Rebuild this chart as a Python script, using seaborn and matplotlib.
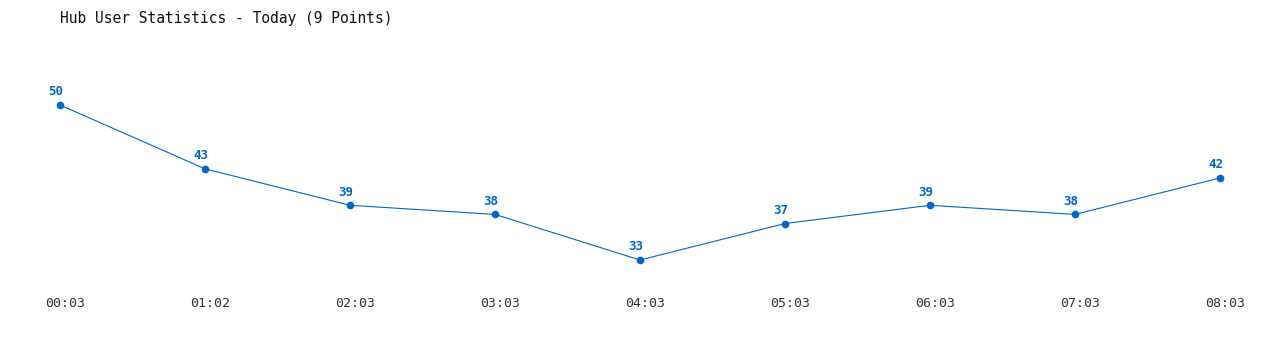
import matplotlib
matplotlib.use("Agg")
import matplotlib.pyplot as plt
import matplotlib.transforms as mtransforms
import seaborn as sns
import pandas as pd

times = ["00:03", "01:02", "02:03", "03:03", "04:03", "05:03", "06:03", "07:03", "08:03"]
users = [50, 43, 39, 38, 33, 37, 39, 38, 42]
title = "Hub User Statistics - Today (9 Points)"

sns.set_theme(style="white")
plt.rcParams['font.family'] = ['DejaVu Sans Mono', 'DejaVu Sans']

color = "#0066cc"
fig = plt.figure(figsize=(12.8, 3.5), dpi=100)
ax = fig.add_axes([0, 60 / 350, 1, 290 / 350])

df = pd.DataFrame({"idx": range(len(times)), "users": users})
sns.lineplot(data=df, x="idx", y="users", ax=ax, color=color, linewidth=0.8,
             marker="o", markersize=5.5, markeredgewidth=0, markerfacecolor=color)

for i, v in enumerate(users):
    ax.annotate(str(v), (i, v), xytext=(-3, 9.5), textcoords="offset points",
                ha="center", va="center", color=color, fontsize=9, fontweight="bold")

ax.set_xlim(-60 / 145, (1280 - 60) / 145)
ax.set_ylim(29.71, 61.515)
ax.set_xticks(range(len(times)))
ax.set_xticklabels(times, fontsize=9.5, color="#333333")
ax.tick_params(axis="x", length=0, pad=5)
offset = mtransforms.ScaledTranslation(5 / 100, 0, fig.dpi_scale_trans)
for lbl in ax.get_xticklabels():
    lbl.set_transform(lbl.get_transform() + offset)
ax.set_yticks([])
ax.set_xlabel("")
ax.set_ylabel("")
for s in ax.spines.values():
    s.set_visible(False)
ax.patch.set_alpha(0)

fig.text(60 / 1280, 1 - 18 / 350, title, ha="left", va="center", fontsize=10.5, color="#111111")

fig.savefig("out.png", dpi=100, facecolor="white")
